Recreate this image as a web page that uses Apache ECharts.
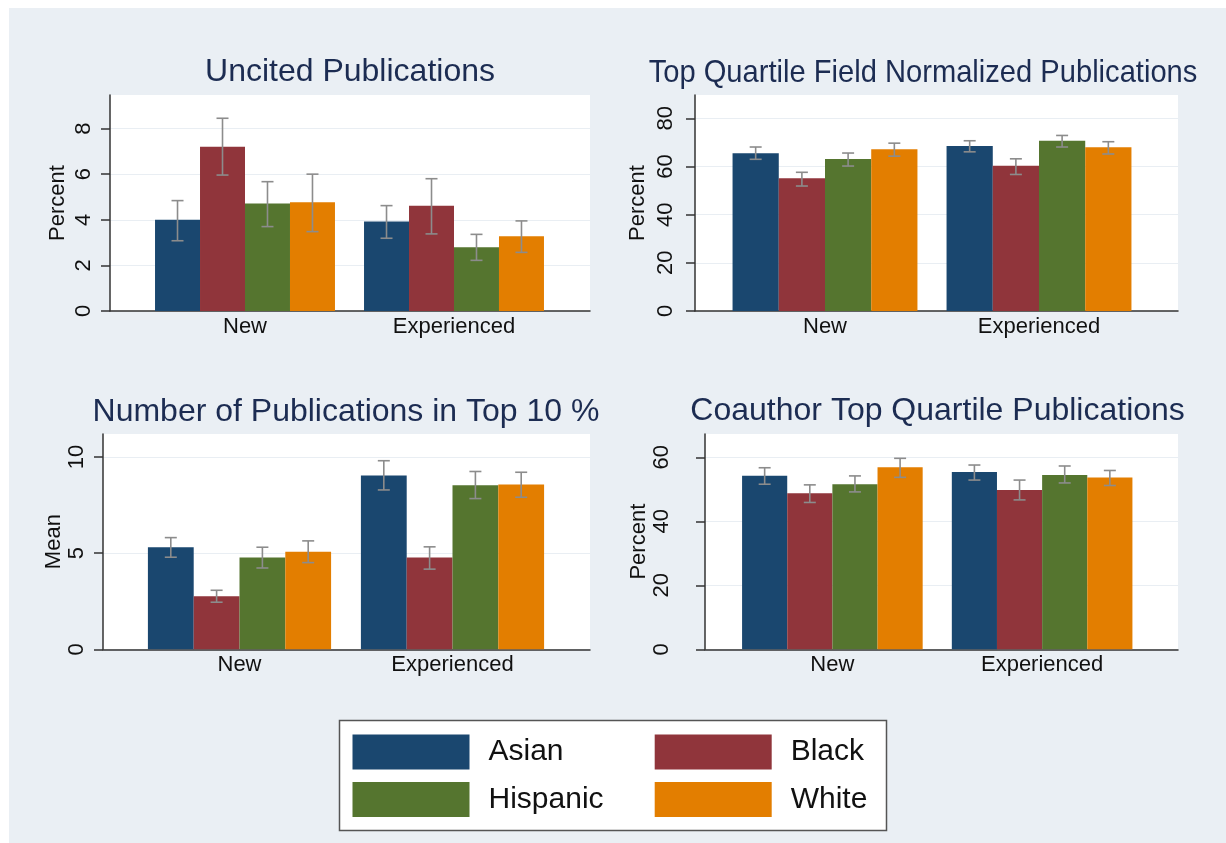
<!DOCTYPE html>
<html>
<head>
<meta charset="utf-8">
<script src="https://cdn.jsdelivr.net/npm/echarts@6/dist/echarts.min.js"></script>
<style>
html, body { margin: 0; padding: 0; background: #ffffff; }
#chart { width: 1226px; height: 843px; }
</style>
</head>
<body>
<div id="chart"></div>
<script>
// ---------------- DATA ----------------
const categories = ['New', 'Experienced'];
const groups = ['Asian', 'Black', 'Hispanic', 'White'];

// Each array: one row per group (Asian, Black, Hispanic, White), values for [New, Experienced]
const uncitedMean = [[4.00, 3.92], [7.20, 4.61], [4.71, 2.79], [4.77, 3.28]];
const uncitedLow  = [[3.08, 3.19], [5.96, 3.38], [3.70, 2.22], [3.48, 2.57]];
const uncitedHigh = [[4.84, 4.62], [8.45, 5.80], [5.67, 3.36], [6.00, 3.95]];
const uncitedTicks = [0, 2, 4, 6, 8];
const uncitedMax = 9.47;

const topQuartileMean = [[65.5, 68.5], [55.1, 60.3], [63.1, 70.7], [67.2, 68.0]];
const topQuartileLow  = [[63.0, 66.1], [51.9, 56.7], [60.2, 68.1], [64.3, 65.2]];
const topQuartileHigh = [[68.1, 70.7], [57.6, 63.2], [65.6, 72.9], [69.7, 70.3]];
const topQuartileTicks = [0, 20, 40, 60, 80];
const topQuartileMax = 89.7;

const top10Mean = [[5.31, 9.04], [2.76, 4.77], [4.77, 8.54], [5.08, 8.57]];
const top10Low  = [[4.79, 8.29], [2.45, 4.17], [4.23, 7.84], [4.51, 7.91]];
const top10High = [[5.81, 9.81], [3.07, 5.33], [5.31, 9.25], [5.64, 9.21]];
const top10Ticks = [0, 5, 10];
const top10Max = 11.2;

const coauthorMean = [[54.25, 55.4], [48.8, 49.8], [51.6, 54.5], [56.9, 53.7]];
const coauthorLow  = [[51.6, 52.9], [45.9, 46.7], [49.2, 52.0], [53.75, 51.2]];
const coauthorHigh = [[56.75, 57.6], [51.4, 52.9], [54.2, 57.3], [59.7, 55.9]];
const coauthorTicks = [0, 20, 40, 60];
const coauthorMax = 67.3;

const panelTitles = ['Uncited Publications', 'Top Quartile Field Normalized Publications',
                     'Number of Publications in Top 10 %', 'Coauthor Top Quartile Publications'];
const yAxisNames = ['Percent', 'Percent', 'Mean', 'Percent'];

// ---------------- STYLE / LAYOUT ----------------
const W = 1226, H = 843;
const colors = ['#1a476f', '#90353b', '#55752f', '#e37e00'];
const FONT = '"Liberation Sans", Arial, Helvetica, sans-serif';
const ciColor = '#8c8c8c';
const axisColor = '#333333';

const panels = [
  { mean: uncitedMean, low: uncitedLow, high: uncitedHigh, ticks: uncitedTicks, max: uncitedMax },
  { mean: topQuartileMean, low: topQuartileLow, high: topQuartileHigh, ticks: topQuartileTicks, max: topQuartileMax },
  { mean: top10Mean, low: top10Low, high: top10High, ticks: top10Ticks, max: top10Max },
  { mean: coauthorMean, low: coauthorLow, high: coauthorHigh, ticks: coauthorTicks, max: coauthorMax }
];

const layout = [
  { outer: [110, 590, 95, 311],   inner: [140.5, 558.5], gap: 0.139, labelMargin: 15, nameGap: 41, title: [350, 72], titleScaleX: 1 },
  { outer: [695, 1178, 95, 311],  inner: [718, 1146],    gap: 0.136, labelMargin: 18, nameGap: 46, title: [923, 73], titleScaleX: 0.91 },
  { outer: [103, 590, 434, 649.3],  inner: [133, 559],   gap: 0.14,  labelMargin: 15, nameGap: 38, title: [346, 412], titleScaleX: 1 },
  { outer: [705, 1178, 434, 649.3], inner: [727.5, 1147], gap: 0.139, labelMargin: 32, nameGap: 49, title: [937.6, 411], titleScaleX: 1 }
];

const grids = [], xAxes = [], yAxes = [], series = [], graphics = [];

graphics.push({ type: 'rect', z: -100, silent: true,
  shape: { x: 9, y: 8, width: W - 9, height: H - 8 }, style: { fill: '#eaeff4' } });

panels.forEach((p, i) => {
  const L = layout[i];
  const [ox0, ox1, oy0, oy1] = L.outer;
  const [ix0, ix1] = L.inner;
  const oIdx = 2 * i, iIdx = 2 * i + 1;

  grids.push({ left: ox0, right: W - ox1, top: oy0, bottom: H - oy1, show: true,
    backgroundColor: '#ffffff', borderWidth: 0, containLabel: false });
  grids.push({ left: ix0, right: W - ix1, top: oy0, bottom: H - oy1, show: false, containLabel: false });

  xAxes.push({ gridIndex: oIdx, type: 'value', min: 0, max: 1,
    axisLine: { show: true, onZero: false, lineStyle: { color: axisColor, width: 1.5 } },
    axisTick: { show: false }, axisLabel: { show: false }, splitLine: { show: false } });
  yAxes.push({ gridIndex: oIdx, type: 'value', min: 0, max: p.max,
    name: yAxisNames[i], nameLocation: 'middle', nameGap: L.nameGap,
    nameTextStyle: { fontSize: 22, color: '#111', fontFamily: FONT },
    axisLine: { show: true, lineStyle: { color: axisColor, width: 1.5 } },
    axisTick: { show: true, length: 9, inside: false, customValues: p.ticks,
      lineStyle: { color: axisColor, width: 1.5 } },
    axisLabel: { rotate: 90, margin: L.labelMargin, fontSize: 22, color: '#111', fontFamily: FONT,
      customValues: p.ticks },
    splitLine: { show: true, lineStyle: { color: '#e9eef3', width: 1.2 } } });

  xAxes.push({ gridIndex: iIdx, type: 'category', data: categories,
    axisLine: { show: false }, axisTick: { show: false }, splitLine: { show: false },
    axisLabel: { margin: 5, fontSize: 22, color: '#111', fontFamily: FONT } });
  yAxes.push({ gridIndex: iIdx, type: 'value', min: 0, max: p.max, show: false,
    splitLine: { show: false } });

  groups.forEach((g, k) => {
    series.push({ type: 'bar', name: g, xAxisIndex: iIdx, yAxisIndex: iIdx,
      data: p.mean[k], barGap: '0%', barCategoryGap: (L.gap * 100) + '%',
      itemStyle: { color: colors[k] }, emphasis: { disabled: true }, z: 2 });
  });
  groups.forEach((g, k) => {
    series.push({ type: 'custom', name: g + ' CI', xAxisIndex: iIdx, yAxisIndex: iIdx, z: 5,
      data: categories.map((c, j) => [j, p.low[k][j], p.high[k][j]]),
      encode: { x: 0, y: [1, 2] },
      renderItem: (params, api) => {
        const c = api.value(0);
        const pLo = api.coord([c, api.value(1)]);
        const pHi = api.coord([c, api.value(2)]);
        const band = api.size([1, 0])[0];
        const bw = band * (1 - L.gap) / groups.length;
        const x = pLo[0] + (k - (groups.length - 1) / 2) * bw;
        const cap = 6;
        const st = { stroke: ciColor, lineWidth: 1.6 };
        return { type: 'group', children: [
          { type: 'line', shape: { x1: x, y1: pLo[1], x2: x, y2: pHi[1] }, style: st },
          { type: 'line', shape: { x1: x - cap, y1: pHi[1], x2: x + cap, y2: pHi[1] }, style: st },
          { type: 'line', shape: { x1: x - cap, y1: pLo[1], x2: x + cap, y2: pLo[1] }, style: st }
        ] };
      } });
  });

  graphics.push({ type: 'text', x: L.title[0], y: L.title[1], scaleX: L.titleScaleX, silent: true,
    style: { text: panelTitles[i], fill: '#1c2c52', font: '32px ' + FONT,
      textAlign: 'center', textVerticalAlign: 'middle' } });
});

// legend frame
graphics.push({ type: 'rect', z: -50, silent: true,
  shape: { x: 339.5, y: 720.5, width: 547, height: 110 },
  style: { fill: '#ffffff', stroke: '#555555', lineWidth: 1.5 } });

const legendPos = [[352.5, 734.5], [654.7, 734.5], [352.5, 782], [654.7, 782]];
const legends = groups.map((g, k) => ({
  data: [g], left: legendPos[k][0], top: legendPos[k][1], orient: 'horizontal',
  itemWidth: 117, itemHeight: 35, itemGap: 0, padding: 0, icon: 'rect',
  textStyle: { fontSize: 30, color: '#111', fontFamily: FONT, padding: [0, 0, 0, 14] },
  z: 10
}));

const chart = echarts.init(document.getElementById('chart'), null, { renderer: 'canvas' });
chart.setOption({
  animation: false,
  backgroundColor: '#ffffff',
  textStyle: { fontFamily: FONT },
  grid: grids,
  xAxis: xAxes,
  yAxis: yAxes,
  series: series,
  legend: legends,
  graphic: graphics
});
</script>
</body>
</html>
